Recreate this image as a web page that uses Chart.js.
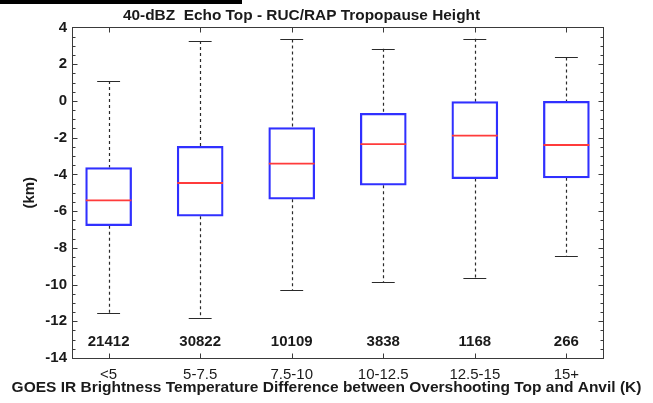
<!DOCTYPE html>
<html><head><meta charset="utf-8">
<script src="https://cdn.jsdelivr.net/npm/chart.js@4/dist/chart.umd.min.js"></script>
<style>
html,body{margin:0;padding:0;background:#fff;}
#wrap{position:relative;width:653px;height:403px;}
#bar{position:absolute;left:0;top:0;width:242px;height:4px;background:#000;}
canvas{position:absolute;left:0;top:0;}
</style></head><body>
<div id="wrap"><canvas id="c" width="653" height="403"></canvas><div id="bar"></div></div>
<script>
const categories = ['<5', '5-7.5', '7.5-10', '10-12.5', '12.5-15', '15+'];
const counts = [21412, 30822, 10109, 3838, 1168, 266];
const whiskerLow = [-11.57, -11.84, -10.32, -9.87, -9.62, -8.47];
const q1 = [-6.80, -6.28, -5.35, -4.59, -4.23, -4.19];
const medians = [-5.42, -4.47, -3.41, -2.35, -1.89, -2.40];
const q3 = [-3.63, -2.47, -1.45, -0.68, -0.04, -0.02];
const whiskerHigh = [1.08, 3.26, 3.35, 2.84, 3.39, 2.37];
const yTicks = [4, 2, 0, -2, -4, -6, -8, -10, -12, -14];
const countLevel = -13.1;
const titleText = '40-dBZ  Echo Top - RUC/RAP Tropopause Height';
const xTitle = 'GOES IR Brightness Temperature Difference between Overshooting Top and Anvil (K)';
const yTitle = '(km)';

const FONT = '"Liberation Sans", Arial, Helvetica, sans-serif';
const TXT = '#1a1a1a';
Chart.defaults.font.family = FONT;
Chart.defaults.color = TXT;

const extras = {
  id: 'boxExtras',
  beforeDatasetsDraw(chart) {
    const {ctx, scales: {x, y}} = chart;
    ctx.save();
    ctx.strokeStyle = '#2a2a2a';
    ctx.lineWidth = 1.2;
    categories.forEach((c, i) => {
      const px = Math.round(x.getPixelForValue(i + 1)) + 0.5;
      ctx.setLineDash([3, 3]);
      ctx.beginPath();
      ctx.moveTo(px, y.getPixelForValue(whiskerHigh[i]));
      ctx.lineTo(px, y.getPixelForValue(q3[i]));
      ctx.moveTo(px, y.getPixelForValue(q1[i]));
      ctx.lineTo(px, y.getPixelForValue(whiskerLow[i]));
      ctx.stroke();
      ctx.setLineDash([]);
      const l = x.getPixelForValue(i + 1 - 0.125), r = x.getPixelForValue(i + 1 + 0.125);
      ctx.beginPath();
      const yh = Math.round(y.getPixelForValue(whiskerHigh[i])) + 0.5;
      const yl = Math.round(y.getPixelForValue(whiskerLow[i])) + 0.5;
      ctx.moveTo(l, yh); ctx.lineTo(r, yh);
      ctx.moveTo(l, yl); ctx.lineTo(r, yl);
      ctx.stroke();
    });
    ctx.restore();
  },
  afterDatasetsDraw(chart) {
    const {ctx, chartArea: a, scales: {x, y}} = chart;
    ctx.save();
    ctx.strokeStyle = '#ff3b3b';
    ctx.lineWidth = 1.8;
    categories.forEach((c, i) => {
      const l = x.getPixelForValue(i + 1 - 0.25), r = x.getPixelForValue(i + 1 + 0.25);
      const ym = y.getPixelForValue(medians[i]);
      ctx.beginPath(); ctx.moveTo(l, ym); ctx.lineTo(r, ym); ctx.stroke();
    });
    ctx.fillStyle = TXT;
    ctx.font = 'bold 15px ' + FONT;
    ctx.textAlign = 'center';
    ctx.textBaseline = 'middle';
    categories.forEach((c, i) => {
      ctx.fillText(String(counts[i]), x.getPixelForValue(i + 1), y.getPixelForValue(countLevel));
    });
    ctx.strokeStyle = '#3a3a3a';
    ctx.lineWidth = 1;
    const L = Math.round(a.left) + 0.5, R = Math.round(a.right) + 0.5, T = Math.round(a.top) + 0.5, B = Math.round(a.bottom) + 0.5;
    ctx.strokeRect(L, T, R - L, B - T);
    ctx.beginPath();
    for (let v = -14; v <= 4.001; v += 0.5) {
      const yy = Math.round(y.getPixelForValue(v)) + 0.5;
      const len = (Math.abs(v % 2) < 1e-6) ? 5 : 3;
      ctx.moveTo(L, yy); ctx.lineTo(L + len, yy);
      ctx.moveTo(R, yy); ctx.lineTo(R - len, yy);
    }
    categories.forEach((c, i) => {
      const px = Math.round(x.getPixelForValue(i + 1)) + 0.5;
      ctx.moveTo(px, T); ctx.lineTo(px, T + 5);
      ctx.moveTo(px, B); ctx.lineTo(px, B - 5);
    });
    ctx.stroke();
    ctx.fillStyle = TXT;
    ctx.font = 'bold 15.5px ' + FONT;
    ctx.textAlign = 'center';
    ctx.textBaseline = 'middle';
    ctx.fillText(xTitle, chart.width / 2, 388);
    ctx.restore();
  }
};

new Chart(document.getElementById('c'), {
  type: 'bar',
  data: {
    datasets: [{
      data: categories.map((c, i) => ({x: i + 1, y: [q1[i], q3[i]]})),
      backgroundColor: 'rgba(0,0,0,0)',
      borderColor: '#3030ff',
      borderWidth: 1.6,
      borderSkipped: false,
      barThickness: 46
    }]
  },
  options: {
    responsive: false,
    animation: false,
    layout: {padding: {left: 0, right: 50, top: 0, bottom: 0}},
    plugins: {
      legend: {display: false},
      tooltip: {enabled: false},
      title: {
        display: true, text: titleText, color: TXT,
        font: {size: 15.4, weight: 'bold'},
        padding: {top: 7, bottom: 2}
      }
    },
    scales: {
      x: {
        type: 'linear', min: 0.6, max: 6.4, offset: false,
        afterBuildTicks: s => { s.ticks = categories.map((c, i) => ({value: i + 1})); },
        afterFit: s => { s.height = 45; },
        ticks: {
          callback: v => categories[Math.round(v) - 1],
          font: {size: 15}, color: TXT, padding: 8, maxRotation: 0, autoSkip: false
        },
        grid: {display: false, drawTicks: false, offset: false},
        border: {display: false}
      },
      y: {
        min: -14, max: 4,
        afterBuildTicks: s => { s.ticks = yTicks.map(v => ({value: v})); },
        afterFit: s => { s.width = 72; },
        ticks: {
          callback: v => String(v),
          font: {size: 15, weight: 'bold'}, color: TXT, padding: 5
        },
        title: {display: true, text: yTitle, color: TXT, font: {size: 15, weight: 'bold'}, padding: {top: 21, bottom: 0}},
        grid: {display: false, drawTicks: false},
        border: {display: false}
      }
    }
  },
  plugins: [extras]
});
</script>
</body></html>
